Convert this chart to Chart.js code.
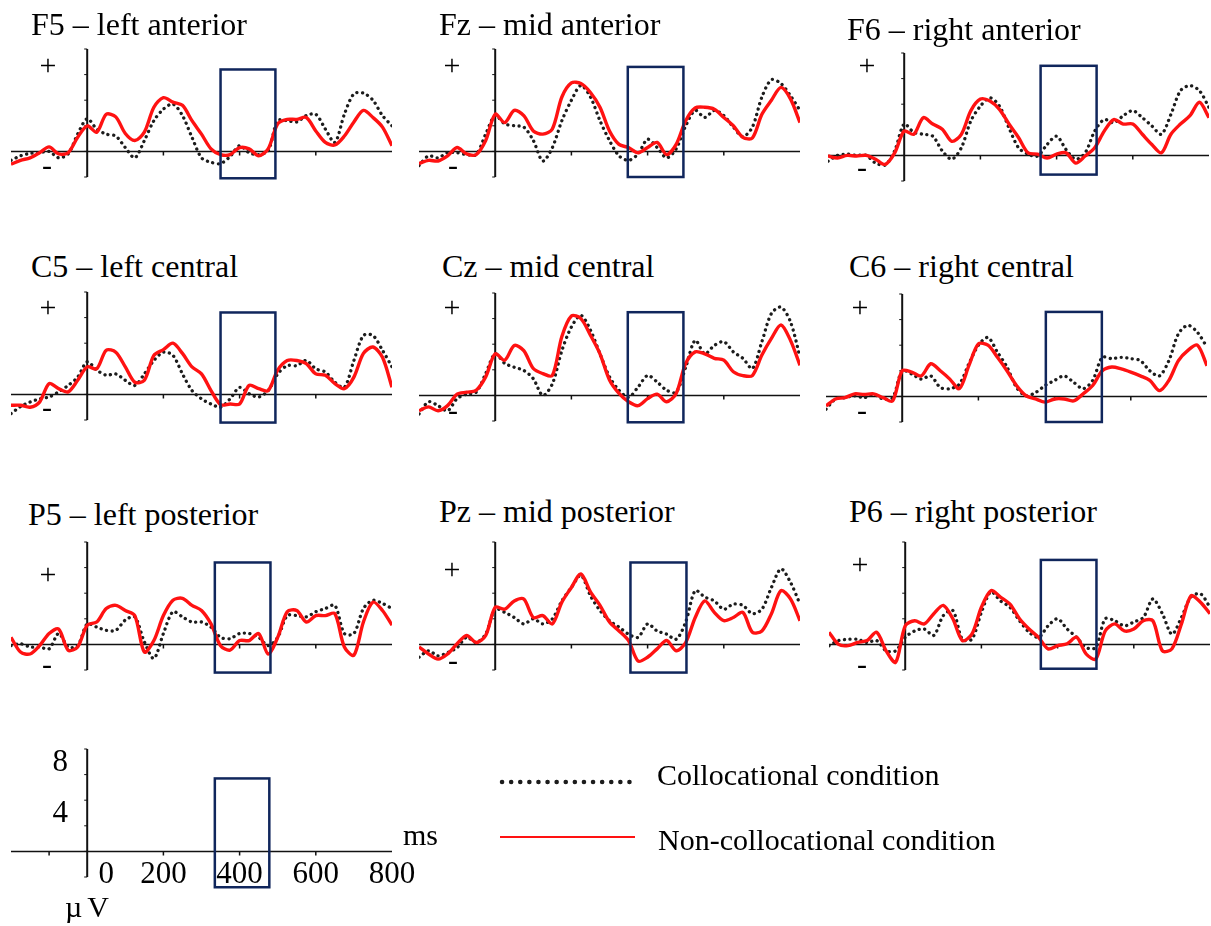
<!DOCTYPE html>
<html lang="en">
<head>
<meta charset="UTF-8">
<title>ERP waveforms</title>
<style>
  body { margin: 0; background: #fff; width: 1211px; height: 926px; position: relative; overflow: hidden;
         font-family: "Liberation Serif", "Times New Roman", serif; color: #000; }
  canvas { position: absolute; }
  .lbl { position: absolute; white-space: nowrap; line-height: 1; }
</style>
</head>
<body>
<script src="https://cdn.jsdelivr.net/npm/chart.js"></script>
<script>
// time points (ms)
const times = [-200,-175,-150,-125,-100,-75,-50,-25,0,25,50,75,100,125,150,175,200,225,250,275,300,325,350,375,400,425,450,475,500,525,550,575,600,625,650,675,700,725,750,775,800];

// amplitudes (µV), collocational = dotted, non-collocational = red
const f5Coll = [-0.7,-0.35,-0.15,-0.1,0,-0.5,-0.2,1.35, 2.55,1.75,1.35,1.2,0.3,-0.5,0.85,2.4, 3.3,3.7,2.8,1.1,-0.5,-0.85,-0.95,-0.4, 0.45,-0.1,-0.25,0.05,2.4,2.4,2.3,2.8, 2.9,1.75,0.7,2.9,4.5,4.55,4.0,2.8, 2.0];
const f5Non  = [-1.0,-0.7,-0.5,-0.1,0.35,-0.2,-0.1,1.1, 2.0,1.5,2.9,2.7,1.4,0.85,1.5,3.45, 4.2,3.85,3.6,2.4,1.35,0.2,-0.25,-0.25, 0.3,0.2,-0.35,0.2,2.15,2.5,2.5,2.65, 1.6,0.7,0.5,1.2,2.3,3.2,2.65,1.9, 0.45];
const fzColl = [-1.1,-0.35,-0.5,-0.1,-0.1,-0.25,-0.25,1.35, 2.8,2.15,2.0,1.9,0.85,-0.75,0.3,2.4, 4.0,5.15,4.25,2.4,0.85,-0.35,-0.7,-0.2, 0.95,0.3,-0.5,0.2,2.0,3.2,2.65,3.2, 2.8,1.9,1.15,1.9,4.25,5.6,5.3,4.35, 3.2];
const fzNon  = [-0.95,-0.7,-0.75,-0.35,0.3,-0.2,-0.25,0.85, 2.9,2.25,3.2,2.8,1.6,1.35,1.75,4.25, 5.35,5.3,4.6,3.45,1.6,0.55,0.3,-0.1, 0.3,0.7,-0.25,0.55,2.4,3.4,3.45,3.3, 2.65,2.0,1.1,1.05,2.9,4.0,5.0,4.1, 2.25];
const f6Coll = [-0.45,0,0.1,0,0,-0.6,-0.75,0.35, 2.45,1.8,1.65,1.5,0.35,-0.3,0.6,2.7, 3.85,4.5,3.85,2.15,0.6,0.1,-0.05,0.85, 1.5,0.45,-0.3,0.2,1.9,2.8,2.55,3.1, 3.5,2.95,2.3,1.65,3.2,5.05,5.45,5.05, 3.75];
const f6Non  = [-0.05,-0.2,0,-0.05,0,-0.3,-0.7,0.2, 1.9,1.65,2.95,2.45,2.05,1.1,1.65,3.5, 4.4,4.25,3.6,2.45,1.4,0.2,0.1,-0.2, 0.1,0.2,-0.6,-0.05,0.6,1.9,2.8,2.45, 2.45,1.65,0.85,0.2,1.65,2.45,3.1,4.15, 2.95];
const c5Coll = [-1.5,-0.95,-0.6,-0.35,-0.2,0.2,0.7,1.35, 2.55,1.9,1.5,1.6,1.1,0.7,1.6,2.65, 3.3,3.05,1.6,0.3,-0.35,-0.75,-1.0,-0.35, 0.55,0.05,-0.2,0.3,1.6,2.25,2.25,2.65, 2.0,1.75,0.95,0.55,2.65,4.6,4.6,3.45, 2.15];
const c5Non  = [-0.85,-0.85,-1.0,-0.6,0.85,0.45,0.2,1.1, 2.15,2.0,3.45,3.3,2.15,0.95,1.1,3.05, 3.5,4.0,3.2,2.15,1.6,0.3,-0.8,-0.75, -0.75,0.7,0.45,0.3,1.9,2.65,2.65,2.4, 1.6,1.5,0.85,0.45,1.35,3.2,3.7,2.9, 0.55];
const czColl = [-1.45,-0.5,-0.8,-1.2,-0.25,0.1,0.25,1.7, 3.25,2.5,2.2,1.95,1.3,0,0.9,3.5, 5.35,6.25,5.1,3.25,1.45,0.4,-0.15,0.65, 1.55,1.05,0.4,0.25,2.2,4.3,3.25,3.9, 4.2,3.4,2.9,2.1,4.2,6.4,6.9,5.75, 3.0];
const czNon  = [-1.2,-0.9,-1.2,-0.8,0.1,0.25,0.4,1.45, 3.25,2.75,3.9,3.5,2.1,1.7,1.55,4.6, 6.2,6.0,4.7,3.25,1.2,0.15,-0.5,-0.8, -0.25,0.1,-0.5,0.15,2.5,3.4,3.25,2.9, 2.75,1.85,1.55,1.55,3.15,4.45,5.5,4.3, 2.35];
const c6Coll = [-1.0,-0.2,-0.1,0.05,-0.1,0.15,-0.2,-0.1, 2.0,1.75,1.35,1.6,0.7,0.6,0.95,2.55, 4.0,4.6,3.45,2.3,0.7,0.05,0.3,0.85, 1.25,1.6,1.1,0.6,1.25,3.05,2.95,3.05, 2.95,2.8,2.0,1.6,2.8,4.9,5.55,5.0, 3.85];
const c6Non  = [-0.75,-0.2,-0.1,0.2,0.15,0.2,-0.1,-0.35, 2.0,1.9,1.6,2.55,2.0,1.35,0.6,2.4, 4.1,4.0,3.05,2.0,0.85,0.05,-0.2,-0.45, -0.2,-0.2,-0.35,0.2,0.85,2.0,2.3,2.15, 1.9,1.6,1.25,0.45,1.25,2.8,3.6,4.0, 2.4];
const p5Coll = [-0.1,0.05,-0.2,-0.2,-0.35,0.85,-0.2,-0.1, 1.6,1.35,1.1,1.1,1.9,2.15,0.2,-1.1, 0.85,2.55,2.15,1.75,1.75,1.35,0.55,0.45, 0.85,0.85,0.55,-0.1,0.55,2.25,2.25,2.15, 2.55,2.8,3.05,0.85,0.85,2.8,3.45,3.2, 2.8];
const p5Non  = [0.55,-0.6,-0.75,-0.1,0.85,1.2,-0.45,-0.2, 1.5,1.75,2.8,3.05,2.65,2.25,-0.6,0.3, 2.25,3.45,3.6,3.05,2.65,1.6,-0.1,-0.45, 0.3,0.3,0.85,-0.75,0.55,2.55,2.65,1.75, 2.25,2.25,2.4,-0.2,-0.85,1.75,3.3,2.65, 1.5];
const pzColl = [-1.0,-0.5,-0.9,-0.65,-0.25,0.55,0.15,0.8, 2.75,2.5,2.1,1.6,2.0,1.6,2.0,3.4, 4.45,5.4,3.8,2.65,1.85,1.35,0.8,0.55, 1.6,1.05,0.8,0.4,1.75,4.2,3.7,3.4, 2.75,3.15,3.05,2.4,2.75,4.45,5.9,4.85, 3.15];
const pzNon  = [-0.2,-0.75,-1.15,-0.75,0.05,0.7,0.15,0.7, 2.9,2.75,3.4,3.55,2.1,2.25,1.6,3.3, 4.45,5.5,4.1,3.05,1.75,1.05,0.3,-1.3, -1.0,-0.35,0.3,-0.5,0.15,2.1,3.4,2.5, 1.85,2.1,2.5,0.95,1.05,2.4,4.2,3.55, 1.85];
const p6Coll = [-0.1,0.3,0.4,0.4,0.15,0.3,-0.5,-0.5, 0.55,1.05,1.2,0.7,2.25,2.65,0.4,0.4, 2.5,4.1,3.4,2.9,1.85,0.95,0.55,1.45, 2.0,1.2,0.55,-0.25,-0.25,2.0,1.85,1.45, 1.75,2.1,3.55,2.4,0.8,2.1,3.7,3.95, 2.9];
const p6Non  = [0.95,0,-0.1,0.15,0.3,0.95,-0.5,-1.4, 1.45,1.85,1.6,2.4,3.05,2.0,0.3,0.8, 2.9,4.2,3.7,3.15,2.0,1.2,0.55,-0.35, -0.1,0.05,0.55,-0.75,-1.15,1.05,1.6,1.05, 1.2,1.85,1.85,-0.5,-0.35,1.6,3.8,3.3, 2.4];

const panelTitles = ['F5 – left anterior', 'Fz – mid anterior', 'F6 – right anterior',
                     'C5 – left central', 'Cz – mid central', 'C6 – right central',
                     'P5 – left posterior', 'Pz – mid posterior', 'P6 – right posterior'];
const collSeries = [f5Coll, fzColl, f6Coll, c5Coll, czColl, c6Coll, p5Coll, pzColl, p6Coll];
const nonSeries  = [f5Non, fzNon, f6Non, c5Non, czNon, c6Non, p5Non, pzNon, p6Non];

// analysis window per panel: [start ms, end ms, top µV, bottom µV]
const windows = [[350,494,6.4,-2.1], [348,494,6.6,-2.0], [358,505,7.0,-1.5],
                 [350,494,6.4,-2.2], [348,494,6.5,-2.1], [377,524,6.6,-2.0],
                 [335,481,6.4,-2.2], [355,502,6.4,-2.2], [356,502,6.6,-1.9]];
const scaleWindow = [335, 478, 5.7, -2.8];

const xTickValues = [200, 400, 600];
const scaleXTickValues = [-100, 200, 400, 600];
const yTickValues = [-2, 0, 2, 4, 6, 8];
const xTickLabels = [0, 200, 400, 600, 800];
const yTickLabels = [8, 4];
const legendLabels = ['Collocational condition', 'Non-collocational condition'];

// page layout (pixels)
const AREA_W = 381, AREA_H = 128;
const PAD = {left: 4, right: 4, top: 8, bottom: 12};
const layout = [
  {left: 11,  zero: 151, title: [31, 35],  plus: [48, 68],  minus: [47, 168]},
  {left: 419, zero: 151, title: [439, 35], plus: [452, 68], minus: [453, 168]},
  {left: 828, zero: 155, title: [847, 40], plus: [867, 68], minus: [862, 170]},
  {left: 11,  zero: 394, title: [31, 277], plus: [48, 310], minus: [47, 410]},
  {left: 419, zero: 395, title: [442, 277], plus: [452, 310], minus: [453, 413]},
  {left: 826, zero: 396, title: [849, 277], plus: [860, 310], minus: [862, 413]},
  {left: 11,  zero: 644, title: [28, 525], plus: [48, 577], minus: [47, 667]},
  {left: 419, zero: 644, title: [439, 522], plus: [452, 572], minus: [453, 663]},
  {left: 829, zero: 644, title: [849, 522], plus: [860, 567], minus: [862, 667]}
];

const RED = 'rgb(255,18,18)';
const DOTS = '#1c1c1c';
const NAVY = '#10265c';
const SERIF = '"Liberation Serif", "Times New Roman", serif';

function addText(text, x, baseline, size, center) {
  const d = document.createElement('div');
  d.className = 'lbl';
  d.textContent = text;
  d.style.fontSize = size + 'px';
  d.style.left = x + 'px';
  d.style.top = (baseline - size * 0.8375) + 'px';
  if (center) d.style.transform = 'translateX(-50%)';
  document.body.appendChild(d);
  return d;
}

const erpAxes = {
  id: 'erpAxes',
  beforeDatasetsDraw(chart, args, opts) {
    const {ctx, scales: {x, y}} = chart;
    const x0 = x.getPixelForValue(0), y0 = y.getPixelForValue(0);
    ctx.save();
    ctx.strokeStyle = '#111';
    ctx.lineWidth = 1.5;
    ctx.beginPath();
    ctx.moveTo(x.getPixelForValue(x.min), y0);
    ctx.lineTo(x.getPixelForValue(x.max), y0);
    opts.xTicks.forEach(t => {
      const px = x.getPixelForValue(t);
      ctx.moveTo(px, y0);
      ctx.lineTo(px, y0 + 4);
    });
    ctx.stroke();
    ctx.lineWidth = 2;
    ctx.beginPath();
    ctx.moveTo(x0, y.getPixelForValue(y.max));
    ctx.lineTo(x0, y.getPixelForValue(y.min));
    ctx.stroke();
    ctx.lineWidth = 1;
    ctx.beginPath();
    yTickValues.forEach(v => {
      const py = y.getPixelForValue(v);
      ctx.moveTo(x0 - 3, py);
      ctx.lineTo(x0, py);
    });
    ctx.stroke();
    ctx.restore();
  },
  afterDatasetsDraw(chart, args, opts) {
    const {ctx, scales: {x, y}} = chart;
    const w = opts.win;
    const l = x.getPixelForValue(w[0]), r = x.getPixelForValue(w[1]);
    const t = y.getPixelForValue(w[2]), b = y.getPixelForValue(w[3]);
    ctx.save();
    ctx.strokeStyle = NAVY;
    ctx.lineWidth = 2.5;
    ctx.strokeRect(l, t, r - l, b - t);
    ctx.restore();
  },
  afterDraw(chart, args, opts) {
    if (!opts.scaleLabels) return;
    const {ctx, scales: {x, y}} = chart;
    const x0 = x.getPixelForValue(0), y0 = y.getPixelForValue(0);
    ctx.save();
    ctx.fillStyle = '#000';
    ctx.font = '31px ' + SERIF;
    ctx.textAlign = 'center';
    ctx.textBaseline = 'alphabetic';
    xTickLabels.forEach(v => {
      ctx.fillText(String(v), x.getPixelForValue(v) + (v === 0 ? 19 : 0), y0 + 31.5);
    });
    ctx.textBaseline = 'middle';
    yTickLabels.forEach(v => {
      ctx.fillText(String(v), x0 - 27, y.getPixelForValue(v) + 14);
    });

    // legend, styled after the two datasets
    const ds = chart.data.datasets;
    ctx.textAlign = 'left';
    ctx.textBaseline = 'alphabetic';
    ctx.font = '30px ' + SERIF;
    // dotted sample
    ctx.strokeStyle = ds[0].borderColor;
    ctx.lineWidth = 4.5;
    ctx.lineCap = 'round';
    ctx.setLineDash([0.1, 9]);
    ctx.beginPath();
    ctx.moveTo(502, 51);
    ctx.lineTo(635, 51);
    ctx.stroke();
    ctx.fillText(ds[0].label, 657, 54);
    // solid sample
    ctx.strokeStyle = ds[1].borderColor;
    ctx.lineWidth = 2;
    ctx.lineCap = 'butt';
    ctx.setLineDash([]);
    ctx.beginPath();
    ctx.moveTo(500, 106);
    ctx.lineTo(635, 106);
    ctx.stroke();
    ctx.fillText(ds[1].label, 658, 119);
    ctx.restore();
  }
};

function toPoints(arr) {
  return times.map((t, i) => ({x: t, y: arr[i]}));
}

function baseOptions(pad, pluginOpts) {
  return {
    responsive: false,
    animation: false,
    devicePixelRatio: 1,
    events: [],
    layout: {padding: pad},
    scales: {
      x: {type: 'linear', min: -200, max: 800, display: false},
      y: {type: 'linear', min: -2, max: 8, display: false}
    },
    elements: {point: {radius: 0}},
    plugins: {
      legend: {display: false},
      tooltip: {enabled: false},
      erpAxes: pluginOpts
    }
  };
}

function makePanel(i) {
  const L = layout[i];
  const cv = document.createElement('canvas');
  cv.width = AREA_W + PAD.left + PAD.right;
  cv.height = AREA_H + PAD.top + PAD.bottom;
  cv.style.left = (L.left - PAD.left) + 'px';
  cv.style.top = Math.round(L.zero - AREA_H * 0.8 - PAD.top) + 'px';
  document.body.appendChild(cv);

  new Chart(cv, {
    type: 'line',
    data: {
      datasets: [
        {label: legendLabels[1], data: toPoints(nonSeries[i]), borderColor: RED, borderWidth: 3.4,
         tension: 0.3, fill: false},
        {label: legendLabels[0], data: toPoints(collSeries[i]), borderColor: DOTS, borderWidth: 3.3,
         borderDash: [0.1, 5.5], borderCapStyle: 'round', tension: 0.3, fill: false}
      ]
    },
    options: baseOptions(PAD, {win: windows[i], xTicks: xTickValues}),
    plugins: [erpAxes]
  });

  addText(panelTitles[i], L.title[0], L.title[1], 32);
  addText('+', L.plus[0], L.plus[1] + 7.5, 30, true);
  addText('-', L.minus[0], L.minus[1] + 7.5, 30, true);
}

for (let i = 0; i < panelTitles.length; i++) makePanel(i);

// calibration panel with legend
(function () {
  const pad = {left: 11, right: 658, top: 18, bottom: 49};
  const cv = document.createElement('canvas');
  cv.width = AREA_W + pad.left + pad.right;
  cv.height = AREA_H + pad.top + pad.bottom;
  cv.style.left = '0px';
  cv.style.top = '731px';
  document.body.appendChild(cv);
  new Chart(cv, {
    type: 'line',
    data: {
      datasets: [
        {label: legendLabels[0], data: [], borderColor: DOTS},
        {label: legendLabels[1], data: [], borderColor: RED}
      ]
    },
    options: baseOptions(pad, {win: scaleWindow, xTicks: scaleXTickValues, scaleLabels: true}),
    plugins: [erpAxes]
  });
  addText('ms', 403, 845, 30);
  const mu = addText('µV', 65, 917, 30);
  mu.style.letterSpacing = '5px';
})();
</script>
</body>
</html>
